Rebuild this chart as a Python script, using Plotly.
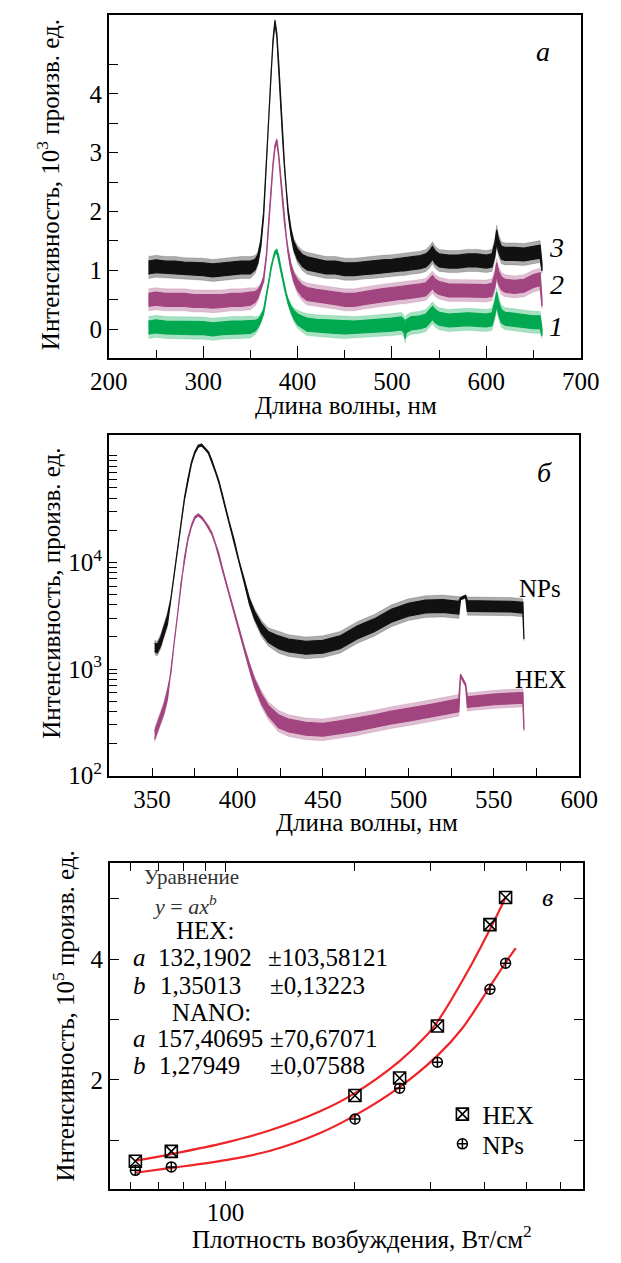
import plotly.graph_objects as go

W, H = 621, 1263
SERIF = "'Liberation Serif', 'Times New Roman', serif"

# ---------------- Panel a: PL spectra, 10^3 arb. units ----------------
wl_a = [242, 250, 260, 270, 280, 290, 300, 310, 320, 330,
        340, 350, 355, 358, 361, 364, 367, 370, 372, 374,
        376, 378, 380, 382, 384, 386, 388, 390, 393, 396,
        400, 405, 410, 420, 430, 440, 450, 460, 470, 480,
        490, 500, 510, 513, 514, 515, 520, 530, 536, 540,
        543, 546, 550, 560, 570, 580, 590, 600, 606, 609,
        611, 613, 616, 620, 630, 640, 650, 657, 659]
curve3_a = [1.05, 1.07, 1.05, 1.05, 1.03, 1.03, 1.02, 1.00, 1.02, 1.03,
            1.05, 1.05, 1.10, 1.20, 1.45, 1.95, 2.80, 3.80, 4.40, 4.90,
            5.22, 5.00, 4.50, 3.90, 3.30, 2.80, 2.35, 2.00, 1.65, 1.42,
            1.27, 1.17, 1.12, 1.08, 1.05, 1.05, 1.02, 1.02, 1.04, 1.05,
            1.07, 1.08, 1.10, 1.10, 1.10, 1.10, 1.12, 1.14, 1.17, 1.23,
            1.30, 1.22, 1.17, 1.15, 1.15, 1.17, 1.17, 1.15, 1.17, 1.35,
            1.58, 1.42, 1.30, 1.28, 1.28, 1.27, 1.30, 1.32, 1.05]
curve2_a = [0.50, 0.52, 0.50, 0.50, 0.50, 0.48, 0.48, 0.47, 0.48, 0.50,
            0.50, 0.52, 0.55, 0.60, 0.70, 0.85, 1.25, 1.95, 2.40, 2.80,
            3.10, 3.20, 2.95, 2.60, 2.20, 1.85, 1.55, 1.32, 1.05, 0.88,
            0.75, 0.65, 0.60, 0.57, 0.55, 0.53, 0.50, 0.50, 0.53, 0.56,
            0.58, 0.60, 0.62, 0.62, 0.62, 0.62, 0.63, 0.66, 0.68, 0.74,
            0.80, 0.74, 0.70, 0.66, 0.66, 0.66, 0.66, 0.65, 0.67, 0.82,
            1.02, 0.88, 0.78, 0.74, 0.72, 0.74, 0.82, 0.85, 0.45]
curve1_a = [0.03, 0.05, 0.03, 0.03, 0.02, 0.02, 0.02, 0.00, 0.02, 0.03,
            0.03, 0.04, 0.06, 0.10, 0.18, 0.30, 0.55, 0.85, 1.05, 1.20,
            1.30, 1.33, 1.22, 1.05, 0.88, 0.72, 0.58, 0.47, 0.34, 0.25,
            0.17, 0.12, 0.08, 0.06, 0.05, 0.04, 0.03, 0.03, 0.04, 0.05,
            0.07, 0.08, 0.10, 0.05, -0.05, 0.05, 0.10, 0.12, 0.15, 0.22,
            0.28, 0.22, 0.18, 0.15, 0.16, 0.17, 0.16, 0.15, 0.17, 0.35,
            0.52, 0.36, 0.22, 0.18, 0.16, 0.14, 0.12, 0.12, -0.05]
noise_a = [0.11] * 12 + [0.09, 0.07, 0.05, 0.035, 0.025, 0.025, 0.025, 0.025,
                         0.025, 0.025, 0.025, 0.025, 0.025, 0.025, 0.03, 0.035, 0.05, 0.07,
                         0.09, 0.10] + [0.11] * 36 + [0.06]

# ---------------- Panel b: PL spectra, log scale ----------------
wl_b = [351.5, 353, 355, 357, 359,
        361, 363, 365, 367, 369, 371, 373, 375, 377, 379,
        381, 383, 385, 387, 389, 391, 393, 395, 398, 401,
        404, 407, 410, 414, 418,
        424, 430, 440, 450, 460, 470, 480, 490, 500, 510, 520, 529.5,
        530.5, 533.5, 534.5,
        540, 550, 560, 567, 567.6]
nps_b = [1600, 1550, 1800, 2300, 2900,
         4500, 7900, 13500, 23500, 40000, 60000, 85000, 107000, 123000, 126000,
         117000, 107000, 89000, 72000, 57500, 43500, 31500, 24000, 16000, 10000,
         6600, 4300, 3200, 2400, 2000,
         1780, 1660, 1580, 1620, 1780, 2200, 2570, 3160, 3600, 3850, 3900, 3760,
         4570, 4790, 3890,
         3890, 3890, 3850, 3760, 2000]
hex_b = [240, 282, 339, 427, 575,
         891, 1780, 3390, 6610, 10960, 16600, 21900, 26300, 27900, 26300,
         24000, 21400, 18600, 15100, 12000, 8900, 6600, 5130, 3470, 2290,
         1550, 1050, 740, 525, 407,
         324, 295, 275, 269, 285, 302, 324, 351, 372, 398, 427, 457,
         871, 708, 490,
         501, 519, 531, 537, 282]
noise_b = [0.04] * 5 + [0.008] * 20 + [0.015, 0.025, 0.035, 0.045, 0.05] + \
          [0.06] * 12 + [0.01, 0.01, 0.05] + [0.05] * 4 + [0.02]

# ---------------- Panel c: intensity vs excitation density ----------------
density = [61.7, 74.8, 200, 254, 311, 412, 448]
hex_c = [0.65, 0.815, 1.74, 2.03, 2.89, 4.57, 5.02]
nps_c = [0.50, 0.557, 1.35, 1.86, 2.29, 3.50, 3.93]
fit_hex_x = [61.7, 74.8, 100, 126.5, 165, 200, 254, 294, 311, 370, 416, 449]
fit_hex_y = [0.66, 0.77, 0.96, 1.16, 1.47, 1.78, 2.31, 2.74, 2.96, 3.86, 4.55, 5.03]
fit_nps_x = [61.7, 74.8, 100, 126.5, 165, 200, 254, 311, 355, 410, 447, 473]
fit_nps_y = [0.46, 0.54, 0.67, 0.82, 1.11, 1.41, 1.88, 2.40, 2.85, 3.52, 3.93, 4.18]
hex_params = ["132,1902", "±103,58121", "1,35013", "±0,13223"]
nano_params = ["157,40695", "±70,67071", "1,27949", "±0,07588"]

BLACK = "#111111"
PURPLE = "#a2447f"
GREEN = "#00a84f"
RED = "#ee2428"


def rgba(hexcol, a):
    h = hexcol.lstrip("#")
    r, g, b = int(h[0:2], 16), int(h[2:4], 16), int(h[4:6], 16)
    return f"rgba({r},{g},{b},{a})"


fig = go.Figure()


def band(x, c, hw, color, xa, ya, log=False):
    for mult, alpha, lw in ((1.7, 0.35, 0.5), (1.0, 1.0, 1.2)):
        if log:
            up = [ci * 10 ** (h * mult) for ci, h in zip(c, hw)]
            lo = [ci / 10 ** (h * mult) for ci, h in zip(c, hw)]
        else:
            up = [ci + h * mult for ci, h in zip(c, hw)]
            lo = [ci - h * mult for ci, h in zip(c, hw)]
        fig.add_trace(go.Scatter(
            x=list(x) + list(x)[::-1], y=up + lo[::-1], mode="lines",
            fill="toself", fillcolor=rgba(color, alpha),
            line=dict(color=rgba(color, alpha), width=lw),
            xaxis=xa, yaxis=ya, showlegend=False, hoverinfo="skip"))


band(wl_a, curve1_a, noise_a, GREEN, "x", "y")
band(wl_a, curve2_a, noise_a, PURPLE, "x", "y")
band(wl_a, curve3_a, noise_a, BLACK, "x", "y")

band(wl_b, hex_b, noise_b, PURPLE, "x2", "y2", log=True)
band(wl_b, nps_b, noise_b, BLACK, "x2", "y2", log=True)

fig.add_trace(go.Scatter(x=fit_hex_x, y=fit_hex_y, mode="lines",
                         line=dict(color=RED, width=2.2, shape="spline", smoothing=1.0),
                         xaxis="x3", yaxis="y3", showlegend=False, hoverinfo="skip"))
fig.add_trace(go.Scatter(x=fit_nps_x, y=fit_nps_y, mode="lines",
                         line=dict(color=RED, width=2.2, shape="spline", smoothing=1.0),
                         xaxis="x3", yaxis="y3", showlegend=False, hoverinfo="skip"))
fig.add_trace(go.Scatter(x=density, y=hex_c, mode="markers", name="HEX", legend="legend",
                         marker=dict(symbol="square-x-open", size=12, color="black",
                                     line=dict(width=1.6, color="black")),
                         xaxis="x3", yaxis="y3"))
fig.add_trace(go.Scatter(x=density, y=nps_c, mode="markers", name="NPs", legend="legend2",
                         marker=dict(symbol="circle-cross-open", size=10, color="black",
                                     line=dict(width=1.5, color="black")),
                         xaxis="x3", yaxis="y3"))


def px(x):
    return x / W


def py(y):
    return 1 - y / H


tickfont = dict(family=SERIF, size=25, color="black")
axis_common = dict(showline=True, linecolor="black", linewidth=1.6, ticks="inside", tickcolor="black",
                   tickwidth=1.2, showgrid=False, zeroline=False, tickfont=tickfont, fixedrange=True)
legend_common = dict(xanchor="left", yanchor="middle", font=dict(family=SERIF, size=25, color="black"),
                     bgcolor="rgba(0,0,0,0)", itemwidth=30, tracegroupgap=0)

fig.update_layout(
    width=W, height=H, autosize=False, margin=dict(l=0, r=0, t=0, b=0),
    paper_bgcolor="white", plot_bgcolor="white",
    font=dict(family=SERIF, size=25, color="black"),
    showlegend=True,
    legend=dict(x=px(451), y=py(1126), **legend_common),
    legend2=dict(x=px(451), y=py(1156), **legend_common),
    xaxis=dict(domain=[px(95.7), px(598.3)], anchor="y", range=[200, 700],
               tickvals=[200, 300, 400, 500, 600, 700], ticklen=12, mirror=True,
               minor=dict(tickvals=[250, 350, 450, 550, 650], ticks="inside", ticklen=8, tickcolor="black"),
               **axis_common),
    yaxis=dict(domain=[py(361.7), py(15)], anchor="x", range=[-0.487, 5.34],
               tickvals=[0, 1, 2, 3, 4], ticklen=9, mirror=True,
               minor=dict(tickvals=[0.5, 1.5, 2.5, 3.5, 4.5], ticks="inside", ticklen=9, tickcolor="black"),
               **axis_common),
    xaxis2=dict(domain=[px(95.7), px(596.8)], anchor="y2", range=[324.7, 600],
                tickvals=[350, 400, 450, 500, 550, 600], ticklen=8, mirror=True,
                minor=dict(tickvals=[375, 425, 475, 525, 575], ticks="inside", ticklen=8, tickcolor="black"),
                **axis_common),
    yaxis2=dict(domain=[py(784.3), py(440)], anchor="x2", type="log", range=[1.995, 5.19],
                tickvals=[100, 1000, 10000],
                ticktext=["10<sup>2</sup>", "10<sup>3</sup>", "10<sup>4</sup>"],
                ticklen=8, mirror=True,
                minor=dict(tickvals=[200, 300, 400, 500, 600, 700, 800, 900,
                                     2000, 3000, 4000, 5000, 6000, 7000, 8000, 9000,
                                     20000, 30000, 40000, 50000, 60000, 70000, 80000, 90000, 100000],
                           ticks="inside", ticklen=8, tickcolor="black"),
                **axis_common),
    xaxis3=dict(domain=[px(96.7), px(600.7)], anchor="y3", type="log", range=[1.7308, 2.8312],
                tickvals=[100], ticktext=["100"], ticklen=9, mirror="allticks",
                minor=dict(tickvals=[60, 70, 80, 90, 200, 300, 400, 500, 600], ticks="inside", ticklen=8,
                           tickcolor="black"),
                **axis_common),
    yaxis3=dict(domain=[py(1201.8), py(871.7)], anchor="x3", range=[0.184, 5.595],
                tickvals=[2, 4], ticklen=9, mirror="allticks",
                minor=dict(tickvals=[1, 3, 5], ticks="inside", ticklen=9, tickcolor="black"),
                **axis_common),
)

anns = []


def ann(text, x, y, size=25, italic=False, xanchor="center", angle=0, color="black"):
    anns.append(dict(text=f"<i>{text}</i>" if italic else text, x=px(x), y=py(y), xref="paper", yref="paper",
                     xanchor=xanchor, yanchor="middle", showarrow=False, textangle=angle,
                     font=dict(family=SERIF, size=size, color=color)))


# axis titles
ann("Интенсивность, 10<sup>3</sup> произв. ед.", 31, 187, 25, angle=-90)
ann("Длина волны, нм", 348, 410, 25)
ann("Интенсивность, произв. ед.", 35, 599, 25, angle=-90)
ann("Длина волны, нм", 371, 831, 25)
ann("Интенсивность, 10<sup>5</sup> произв. ед.", 48, 1027, 25, angle=-90)
ann("Плотность возбуждения, Вт/см<sup>2</sup>", 365, 1250, 25)

# panel letters and curve labels
ann("а", 558, 52, 28, italic=True)
ann("3", 573, 250, 28, italic=True)
ann("2", 573, 287, 28, italic=True)
ann("1", 572, 330, 28, italic=True)
ann("б", 560, 477, 28, italic=True)
ann("NPs", 555, 595, 25)
ann("HEX", 556, 687, 25)
ann("в", 563, 907, 26, italic=True)

# fit parameter text block
ann("Уравнение", 131, 886, 21, xanchor="left", color="#333333")
ann("<i>y</i> = <i>ax</i><sup><i>b</i></sup>", 141, 914, 22, xanchor="left", color="#333333")
ann("HEX:", 165, 940, 25, xanchor="left")
ann("a", 119, 967, 25, italic=True, xanchor="left")
ann(hex_params[0], 146, 967, 25, xanchor="left")
ann(hex_params[1], 263, 967, 25, xanchor="left")
ann("b", 119, 996, 25, italic=True, xanchor="left")
ann(hex_params[2], 148, 996, 25, xanchor="left")
ann(hex_params[3], 265, 996, 25, xanchor="left")
ann("NANO:", 161, 1023, 25, xanchor="left")
ann("a", 119, 1049, 25, italic=True, xanchor="left")
ann(nano_params[0], 145, 1049, 25, xanchor="left")
ann(nano_params[1], 265, 1049, 25, xanchor="left")
ann("b", 119, 1077, 25, italic=True, xanchor="left")
ann(nano_params[2], 147, 1077, 25, xanchor="left")
ann(nano_params[3], 265, 1077, 25, xanchor="left")

fig.update_layout(annotations=anns)
fig.write_html("out.html")
